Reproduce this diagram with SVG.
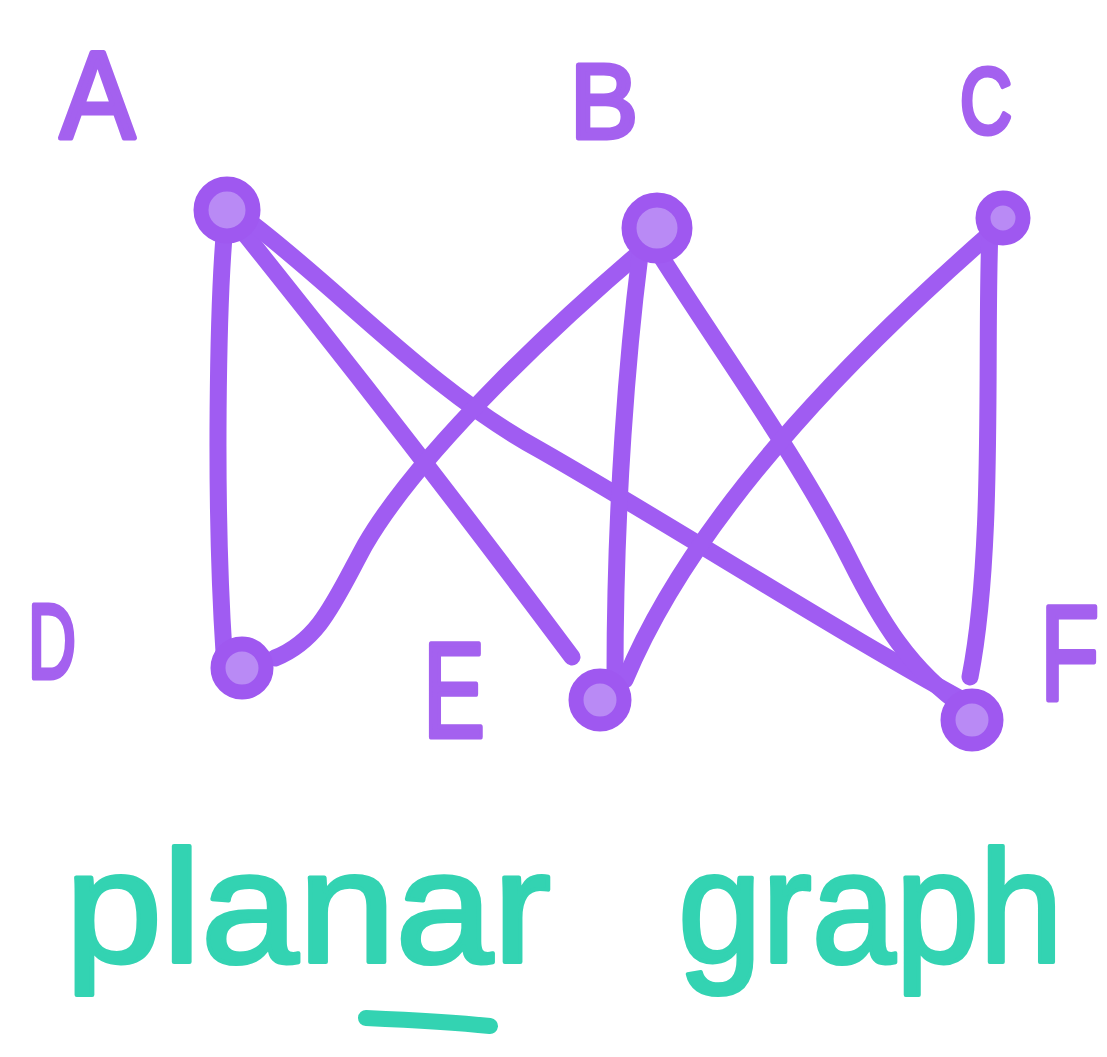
<svg xmlns="http://www.w3.org/2000/svg" width="1107" height="1057" viewBox="0 0 1107 1057">
<style>
.edge{fill:none;stroke:#a05cf2;stroke-width:17;stroke-linecap:round;stroke-linejoin:round}
.node{fill:#b98af5;stroke:#9f58f0;stroke-width:15}
.lbl{font-family:"Liberation Sans",Arial,sans-serif;fill:#a461ef;stroke:#a461ef;stroke-width:5;stroke-linejoin:round}
.word{font-family:"Liberation Sans",Arial,sans-serif;fill:#33d3b2;stroke:#33d3b2;stroke-width:4;stroke-linejoin:round}
</style>
<rect width="1107" height="1057" fill="#ffffff"/>
<g id="connectors">
<path class="edge" d="M225,225 C218,300 214,500 224,652"/>
<path class="edge" d="M240,228 C330,340 440,480 572,657"/>
<path class="edge" d="M250,222 C340,290 430,390 540,450 C680,530 850,640 985,712"/>
<path class="edge" d="M645,248 C560,320 420,450 365,545 C335,600 320,640 275,658"/>
<path class="edge" d="M640,255 C628,350 615,500 615,675"/>
<path class="edge" d="M660,255 C720,350 800,460 850,560 C880,620 910,670 965,708"/>
<path class="edge" d="M992,232 C880,330 700,500 625,680"/>
<path class="edge" d="M990,230 C985,350 995,550 970,677"/>
</g>
<g id="node-A"><circle class="node" cx="227" cy="210" r="26"/><text class="lbl" x="60" y="138" font-size="125" textLength="75" lengthAdjust="spacingAndGlyphs">A</text></g>
<g id="node-B"><circle class="node" cx="657" cy="228" r="28"/><text class="lbl" x="570" y="138" font-size="105" textLength="68" lengthAdjust="spacingAndGlyphs">B</text></g>
<g id="node-C"><circle class="node" cx="1003" cy="218" r="20"/><text class="lbl" x="960" y="133" font-size="92" textLength="52" lengthAdjust="spacingAndGlyphs">C</text></g>
<g id="node-D"><circle class="node" cx="242" cy="668" r="24"/><text class="lbl" x="28" y="678" font-size="105" textLength="48" lengthAdjust="spacingAndGlyphs">D</text></g>
<g id="node-E"><circle class="node" cx="600" cy="700" r="24"/><text class="lbl" x="423" y="737" font-size="135" textLength="62" lengthAdjust="spacingAndGlyphs">E</text></g>
<g id="node-F"><circle class="node" cx="972" cy="720" r="24"/><text class="lbl" transform="translate(1040,700) scale(0.72,1)" x="0" y="0" font-size="135">F</text></g>
<g id="caption">
<text class="word" x="65" y="962" font-size="160" textLength="486" lengthAdjust="spacingAndGlyphs">planar</text>
<text class="word" x="678" y="962" font-size="160" textLength="385" lengthAdjust="spacingAndGlyphs">graph</text>
<path d="M366,1018 C410,1020 450,1022 490,1026" fill="none" stroke="#33d3b2" stroke-width="16" stroke-linecap="round"/>
</g>
</svg>
